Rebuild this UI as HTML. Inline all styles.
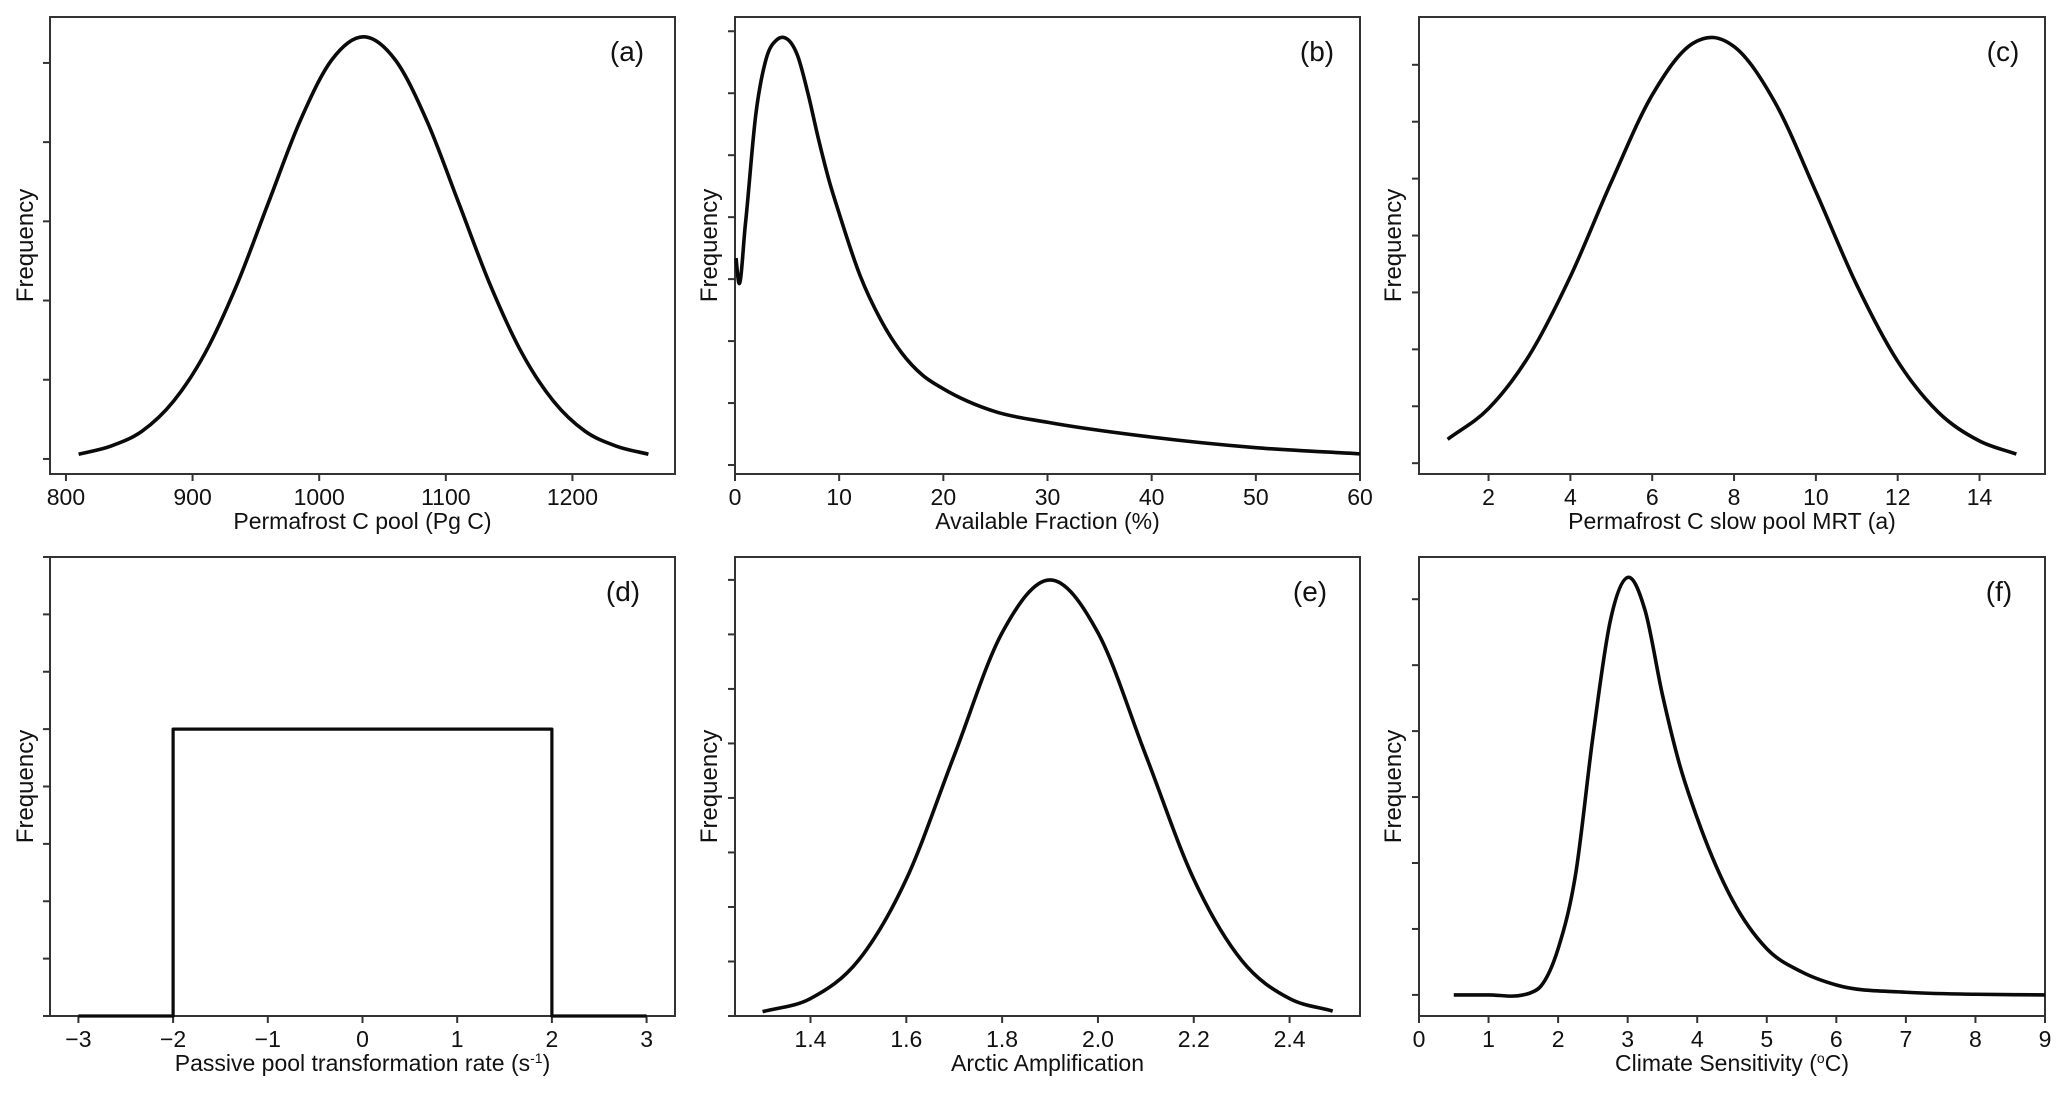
<!DOCTYPE html>
<html><head><meta charset="utf-8"><style>
html,body{margin:0;padding:0;background:#fff}
svg{display:block}
text{font-family:"Liberation Sans Narrow","Liberation Sans",sans-serif;fill:#111}
</style></head><body>
<svg id="fig" width="2067" height="1093" viewBox="0 0 2067 1093" xmlns="http://www.w3.org/2000/svg"></svg>
<script>
// Panel (a) Permafrost C pool
const aX = [810,835,860,885,910,935,960,985,1010,1035,1060,1085,1110,1135,1160,1185,1210,1235,1260];
const aY = [0.06,0.16,0.35,0.73,1.34,2.20,3.24,4.27,5.04,5.33,5.04,4.27,3.24,2.20,1.34,0.73,0.35,0.16,0.06];
const aTicks = [800,900,1000,1100,1200];
// Panel (b) Available fraction
const bX = [0.1,0.35,1,2,3,4,4.7,6,7,8,9,10,12,14,16,18,20,25,30,40,50,60];
const bY = [3.34,2.95,3.89,5.66,6.56,6.86,6.90,6.61,6.0,5.27,4.61,4.06,3.06,2.34,1.81,1.45,1.23,0.86,0.69,0.45,0.28,0.18];
const bTicks = [0,10,20,30,40,50,60];
// Panel (c) slow pool MRT
const cX = [1,2,3,4,5,6,7,7.5,8,9,10,11,12,13,14,14.9];
const cY = [0.42,0.96,1.90,3.28,4.94,6.47,7.38,7.48,7.32,6.34,4.77,3.13,1.79,0.89,0.39,0.16];
const cTicks = [2,4,6,8,10,12,14];
// Panel (d) passive pool rate (uniform)
const dX = [-3,-2,-2,2,2,3];
const dY = [0,0,5,5,0,0];
const dTicks = [-3,-2,-1,0,1,2,3];
const dTickLabels = ["\u22123","\u22122","\u22121","0","1","2","3"];
// Panel (e) Arctic amplification
const eX = [1.3,1.4,1.5,1.6,1.7,1.8,1.9,2.0,2.1,2.2,2.3,2.4,2.49];
const eY = [0.08,0.32,1.02,2.51,4.78,7.03,8.0,7.03,4.78,2.51,1.02,0.32,0.09];
const eTicks = [1.4,1.6,1.8,2.0,2.2,2.4];
const eTickLabels = ["1.4","1.6","1.8","2.0","2.2","2.4"];
// Panel (f) climate sensitivity
const fX = [0.5,1.0,1.5,1.6,1.75,2.0,2.25,2.5,2.75,3.0,3.25,3.5,3.75,4.0,4.5,5.0,5.5,6.0,7,8,9];
const fY = [0,0,0.0,0.03,0.13,0.70,1.82,3.91,5.67,6.33,5.83,4.55,3.48,2.68,1.45,0.70,0.35,0.15,0.04,0.01,0.0];
const fTicks = [0,1,2,3,4,5,6,7,8,9];

const NS="http://www.w3.org/2000/svg";
const svg=document.getElementById('fig');
function mk(tag,attrs,parent){const e=document.createElementNS(NS,tag);for(const k in attrs)e.setAttribute(k,attrs[k]);(parent||svg).appendChild(e);return e;}

// cubic Hermite in x with weighted central-difference slopes
function smoothPath(p){
  const n=p.length,t=new Array(n);
  for(let i=0;i<n;i++){
    if(i===0)t[i]=(p[1][1]-p[0][1])/(p[1][0]-p[0][0]);
    else if(i===n-1)t[i]=(p[n-1][1]-p[n-2][1])/(p[n-1][0]-p[n-2][0]);
    else{
      const h0=p[i][0]-p[i-1][0],h1=p[i+1][0]-p[i][0];
      const m0=(p[i][1]-p[i-1][1])/h0,m1=(p[i+1][1]-p[i][1])/h1;
      t[i]=(m0*h1+m1*h0)/(h0+h1);
    }
  }
  let d="M"+p[0][0].toFixed(2)+","+p[0][1].toFixed(2);
  for(let i=0;i<n-1;i++){
    const h=(p[i+1][0]-p[i][0])/3;
    d+=" C"+(p[i][0]+h).toFixed(2)+","+(p[i][1]+t[i]*h).toFixed(2)+" "+(p[i+1][0]-h).toFixed(2)+","+(p[i+1][1]-t[i+1]*h).toFixed(2)+" "+p[i+1][0].toFixed(2)+","+p[i+1][1].toFixed(2);
  }
  return d;
}

function panel(cfg){
  const g=mk('g',{});
  
  
  const [x0,x1,y0,y1]=cfg.box;
  const sx=v=>x0+(v-cfg.xd[0])/(cfg.xd[1]-cfg.xd[0])*(x1-x0);
  const sy=v=>y1-(v-cfg.yd[0])/(cfg.yd[1]-cfg.yd[0])*(y1-y0);
  const fr=mk('rect',{x:x0,y:y0,width:x1-x0,height:y1-y0,fill:'none',stroke:'#333',"stroke-width":2},g);
  
  
  cfg.yt.forEach(v=>{
    const t=mk('line',{x1:x0-7,x2:x0,y1:sy(v),y2:sy(v),stroke:'#333',"stroke-width":2},g);
    
    
  });
  cfg.xt.forEach((v,i)=>{
    const t=mk('line',{x1:sx(v),x2:sx(v),y1:y1,y2:y1+7,stroke:'#333',"stroke-width":2},g);
    
    
    const l=mk('text',{x:sx(v),y:y1+31,"text-anchor":'middle',"font-size":23},g);
    l.textContent=cfg.xl?cfg.xl[i]:String(v);
    
    
  });
  const xt=mk('text',{x:(x0+x1)/2,y:y1+55,"text-anchor":'middle',"font-size":23},g);
  xt.innerHTML=cfg.xlabel;
  
  
  const yc=(y0+y1)/2;
  const yt=mk('text',{x:0,y:0,"text-anchor":'middle',"font-size":24,transform:`translate(${cfg.fx},${yc}) rotate(-90)`},g);
  yt.textContent='Frequency';
  
  
  const pl=mk('text',{x:cfg.lx,y:y0+44,"text-anchor":'middle',"font-size":28},g);
  pl.textContent='('+cfg.id+')';
  
  
  const pts=cfg.X.map((v,i)=>[sx(v),sy(cfg.Y[i])]);
  let d;
  if(cfg.step){d="M"+pts.map(p=>p[0].toFixed(2)+","+p[1].toFixed(2)).join(" L");}
  else d=smoothPath(pts);
  const c=mk('path',{d:d,fill:'none',stroke:'#0a0a0a',"stroke-width":cfg.step?3.2:3.6,"stroke-linejoin":'round'},g);
  
  
}

panel({id:'a',box:[50,675,17,474],xd:[787.4,1281],yd:[-0.19,5.58],xt:aTicks,yt:[0,1,2,3,4,5],X:aX,Y:aY,xlabel:'Permafrost C pool (Pg C)',fx:33,lx:627});
panel({id:'b',box:[735,1360,17,474],xd:[0,60],yd:[-0.145,7.23],xt:bTicks,yt:[0,1,2,3,4,5,6,7],X:bX,Y:bY,xlabel:'Available Fraction (%)',fx:717,lx:1317});
panel({id:'c',box:[1419,2045,17,474],xd:[0.3,15.6],yd:[-0.19,7.84],xt:cTicks,yt:[0,1,2,3,4,5,6,7],X:cX,Y:cY,xlabel:'Permafrost C slow pool MRT (a)',fx:1401,lx:2003});
panel({id:'d',box:[50,675,557,1016],xd:[-3.3,3.3],yd:[0,8],xt:dTicks,xl:dTickLabels,yt:[0,1,2,3,4,5,6,7,8],X:dX,Y:dY,step:true,xlabel:'Passive pool transformation rate (s<tspan dy="-8" font-size="14">-1</tspan><tspan dy="8">)</tspan>',fx:33,lx:623});
panel({id:'e',box:[735,1360,557,1016],xd:[1.2424,2.547],yd:[0,8.42],xt:eTicks,xl:eTickLabels,yt:[0,1,2,3,4,5,6,7,8],X:eX,Y:eY,xlabel:'Arctic Amplification',fx:717,lx:1310});
panel({id:'f',box:[1419,2045,557,1016],xd:[0,9],yd:[-0.32,6.64],xt:fTicks,yt:[0,1,2,3,4,5,6],X:fX,Y:fY,xlabel:'Climate Sensitivity (<tspan dy="-8" font-size="14">o</tspan><tspan dy="8">C)</tspan>',fx:1401,lx:1999});
</script>
</body></html>
